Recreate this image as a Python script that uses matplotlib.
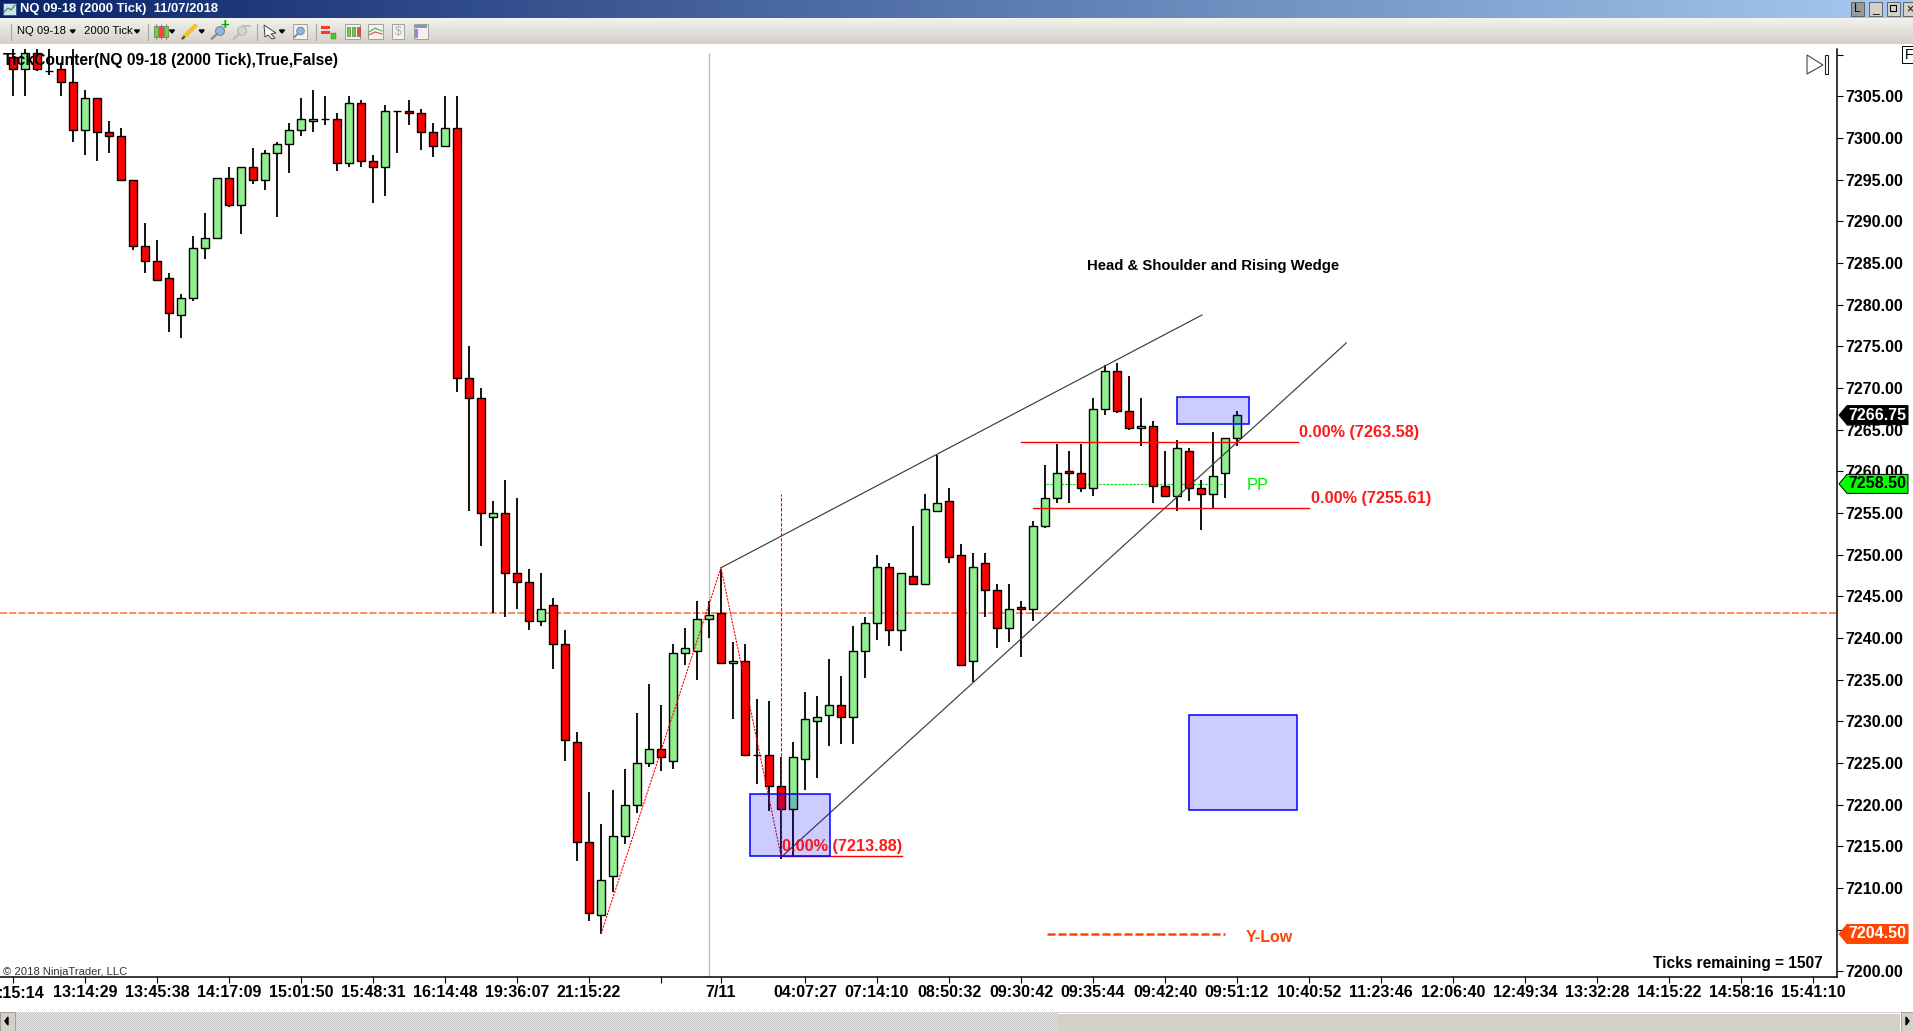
import numpy as np
import matplotlib
matplotlib.use('Agg')
import matplotlib.pyplot as plt
from matplotlib.patches import Rectangle, Polygon, Circle

plt.rcParams['font.family'] = ['Liberation Sans', 'DejaVu Sans']

# candles, one value per bar
opens = [7309.75,7308.25,7310.25,7308,7308.25,7306.75,7301,7304.75,7300.75,7300.25,
         7295,7287,7285.25,7283.25,7278.75,7280.75,7286.75,7288,7295.25,7292,
         7296.5,7295,7298.25,7299.25,7301,7302,7302.25,7302.25,7297,7304.25,
         7297.25,7296.5,7303.25,7303.25,7303,7300.75,7299,7301.25,7271.25,7268.75,
         7254.5,7255,7247.75,7246.75,7242,7244,7239.25,7227.5,7215.5,7206.75,
         7211.5,7216.25,7220,7225,7226.75,7225.25,7238.25,7238.5,7242.25,7243,
         7237,7237.25,7226,7226,7222.25,7219.5,7225.5,7230,7230.75,7232,
         7230.5,7238.5,7241.75,7248.5,7241,7247.5,7246.5,7255.25,7256.5,7250,
         7237.25,7249,7245.75,7241.25,7243.75,7243.5,7253.5,7256.75,7260,7259.75,
         7258,7267.5,7272,7267.25,7265.25,7265.5,7258.25,7257,7262.5,7258,
         7257.25,7259.75,7264]
highs = [7310.75,7310.75,7310.75,7310.75,7309,7310.75,7305.75,7304.75,7302,7301.25,
         7295,7289.75,7287.75,7283.75,7281.25,7288.25,7291,7295.25,7296.5,7296.5,
         7298.75,7298.5,7299.5,7301.75,7304.75,7305.75,7305,7303,7305,7304.5,
         7298,7304,7303.25,7304.5,7303.5,7301.75,7305,7305,7275,7270,
         7256.5,7259,7256.75,7248.25,7247.75,7244.75,7241,7228.75,7221.5,7217.75,
         7221.75,7224.25,7231,7234.5,7232,7239.25,7241.25,7244.5,7244.5,7248.25,
         7239.5,7239.25,7232.75,7232.5,7225.75,7227.5,7233.5,7233,7237.5,7235.5,
         7241.5,7242.5,7250,7249,7247.75,7253.5,7257.25,7262,7258,7251.25,
         7250.25,7250.25,7246.5,7246.5,7244.5,7254,7260.75,7263.25,7262.5,7263.25,
         7268.75,7272.75,7273,7271.5,7268.75,7266,7262.5,7263.75,7262.75,7259,
         7264.75,7264,7267.25]
lows = [7305,7305,7308,7307.5,7305,7299.5,7298,7297.25,7298.25,7295,
        7286.5,7283.75,7283,7276.75,7276,7280.5,7285.5,7288,7291.75,7288.5,
        7294.5,7293.75,7290.5,7295.75,7300.25,7300.75,7301.5,7296,7296.5,7296.5,
        7292.25,7293,7298.25,7301.5,7298.5,7297.75,7299,7269.5,7255.25,7251,
        7243,7242.5,7243.5,7241,7241.5,7236.25,7225.25,7213.25,7206,7204.5,
        7209.5,7215.25,7219,7224.5,7224,7224.25,7236.75,7235,7240,7237,
        7230.25,7226,7222.5,7219.25,7213.5,7213.75,7221.75,7223.25,7227,7227.25,
        7227.25,7235.25,7239.75,7239,7238.5,7246.5,7246.5,7255.25,7249,7236.75,
        7234.75,7242.5,7238.75,7239.5,7237.75,7242,7253.25,7256.25,7256.25,7257.5,
        7257,7266.75,7267,7265,7263,7256.25,7257,7255.25,7256.5,7253,
        7255.5,7256.75,7263]
closes = [7308.25,7310.25,7308.25,7308,7306.75,7301,7304.75,7300.75,7300.25,7295,
          7287,7285.25,7283,7279,7280.75,7286.75,7288,7295.25,7292,7296.5,
          7295,7298.25,7299.25,7301,7302.25,7302.25,7302.25,7297,7304.25,7297.25,
          7296.5,7303.25,7303.25,7303,7300.75,7299,7301.25,7271.25,7268.75,7255,
          7255,7247.75,7246.75,7242,7243.5,7239.25,7227.75,7215.5,7207,7211,
          7216.25,7220,7225,7226.75,7225.75,7238.25,7238.75,7242.25,7242.75,7237,
          7237.25,7226,7226,7222.25,7219.5,7225.75,7230.25,7230.5,7232,7230.5,
          7238.5,7241.75,7248.5,7241,7247.75,7246.5,7255.5,7256.25,7249.75,7236.75,
          7248.5,7245.75,7241.25,7243.5,7243.5,7253.5,7256.75,7259.75,7259.75,7258,
          7267.5,7272,7267.25,7265.25,7265.5,7258.25,7257,7262.75,7258,7257.25,
          7259.5,7264,7266.75]

# axis labels
y_ticks = [7200,7205,7210,7215,7220,7225,7230,7235,7240,7245,7250,7255,
           7260,7265,7270,7275,7280,7285,7290,7295,7300,7305,7310]
x_ticks = [0,6,12,18,24,30,36,42,48,54,59,66,72,78,84,90,96,102,108,114,120,126,132,138,144,150]
x_labels = ['','13:14:29','13:45:38','14:17:09','15:01:50','15:48:31','16:14:48','19:36:07',
            '21:15:22','','7/11','04:07:27','07:14:10','08:50:32','09:30:42','09:35:44',
            '09:42:40','09:51:12','10:40:52','11:23:46','12:06:40','12:49:34','13:32:28',
            '14:15:22','14:58:16','15:41:10']

# drawings on the chart (bar number, price)
session_break = 58
y_low = 7243
wedge_top_x = [59, 99.08]
wedge_top_y = [7248.44, 7278.76]
wedge_low_x = [64.06, 111.1]
wedge_low_y = [7213.76, 7275.4]
zigzag_x = [49, 59, 64]
zigzag_y = [7204.5, 7248.44, 7213.88]
fib_x = 64
fib_y = [7213.88, 7257.25]
res_levels = [7263.58, 7255.61, 7213.88]
res_start = [84, 85.03, 64]
res_end = [107.06, 108, 74.06]
pp_level = 7258.5
pp_x = [86.1, 100.9]
boxes_x = [61.4, 97.03, 98.03]
boxes_x2 = [68.06, 103.03, 107]
boxes_lo = [7213.8, 7265.64, 7219.34]
boxes_hi = [7221.24, 7268.88, 7230.73]
ylow_x = [86.17, 101]
ylow_val = 7204.5
flags = [7266.75, 7258.50, 7204.50]
flag_fill = ['black', '#00ff00', '#ff4500']
flag_text = ['white', 'black', 'white']


def fs(px):
    return px * 0.72


def price_px(p):
    return 96.3 + (7305 - p) * 8.335


fig = plt.figure(figsize=(19.13, 10.31), dpi=100, facecolor='white')

ax = fig.add_axes([0, (1031 - 977) / 1031, 1837 / 1913, (977 - 49) / 1031], zorder=1)
ax.set_xlim(-13 / 12, (1837 - 13) / 12)
ax.set_ylim(7305 - (977 - 96.3) / 8.335, 7305 + (96.3 - 49) / 8.335)
ax.patch.set_alpha(0)

idx = np.arange(len(opens))
o = np.array(opens)
c = np.array(closes)
ax.vlines(idx, lows, highs, color='black', lw=1.3, capstyle='butt', zorder=3)
cols = ['#ff0000' if a > b else '#90ee90' for a, b in zip(o, c)]
ax.bar(idx + 0.04, np.abs(c - o), bottom=np.minimum(o, c), width=0.667, color=cols,
       edgecolor='black', lw=1.0, zorder=4)

ax.axhline(y_low, color='#ff8a60', lw=1.4, dashes=(3.7, 1.05), zorder=1)
ax.axvline(session_break, ymax=0.995, color='#bdbdbd', lw=1.0, zorder=1)
ax.plot(pp_x, [pp_level, pp_level], color='#00e000', lw=0.8, dashes=(2.2, 1.2), zorder=2)

ax.plot(wedge_top_x, wedge_top_y, color='#3c3c3c', lw=0.85, zorder=5)
ax.plot(wedge_low_x, wedge_low_y, color='#3c3c3c', lw=0.85, zorder=5)
ax.plot(zigzag_x, zigzag_y, color='#ff0000', lw=0.8, dashes=(2, 1), zorder=5)
ax.plot([fib_x, fib_x], fib_y, color='#ff0000', lw=0.8, dashes=(3, 1.5), zorder=5)
for lev, a, b in zip(res_levels, res_start, res_end):
    ax.plot([a, b], [lev, lev], color='#ff0000', lw=1.0, zorder=5)
for a, b, lo, hi in zip(boxes_x, boxes_x2, boxes_lo, boxes_hi):
    ax.add_patch(Rectangle((a, lo), b - a, hi - lo, facecolor=(0, 0, 1, 0.2),
                           edgecolor='#0000ff', lw=1.1, zorder=6))
ax.plot(ylow_x, [ylow_val, ylow_val], color='#ff4500', lw=1.8, dashes=(3.2, 1.2), zorder=5)

for s in ['top', 'left']:
    ax.spines[s].set_visible(False)
ax.spines['right'].set_linewidth(1.1)
ax.spines['bottom'].set_linewidth(1.1)
ax.yaxis.tick_right()
ax.set_yticks(y_ticks)
ax.set_yticklabels([f'{v:.2f}' if v != 7310 else '' for v in y_ticks],
                   fontsize=fs(16), fontweight='bold')
ax.set_xticks(x_ticks)
ax.set_xticklabels(x_labels, fontsize=fs(16), fontweight='bold')
ax.tick_params(axis='y', length=4.3, width=0.8, pad=1.5)
ax.tick_params(axis='x', length=4.3, width=0.8, pad=1.8)

# window chrome and texts, in pixels
ui = fig.add_axes([0, 0, 1, 1], zorder=2)
ui.axis('off')

title_grad = np.linspace(np.array([10, 36, 106]), np.array([166, 202, 240]), 256)[None, :, :] / 255
ui.imshow(title_grad, extent=(0, 1913, 18, 0), aspect='auto', zorder=1)
bar_grad = np.linspace(np.array([243, 242, 238]), np.array([212, 208, 200]), 26)[:, None, :] / 255
ui.imshow(bar_grad, extent=(0, 1913, 44, 18), aspect='auto', zorder=1)
checker = (np.indices((19, 1058)).sum(axis=0) % 2)[:, :, None] * np.array([0.14, 0.14, 0.14]) + 0.77
ui.imshow(checker, extent=(0, 1058, 1031, 1012), aspect='auto', interpolation='nearest', zorder=1)
ui.set_xlim(0, 1913)
ui.set_ylim(1031, 0)
ui.add_patch(Rectangle((1058, 1012), 842, 19, facecolor='#d4d0c8', edgecolor='none', zorder=2))
ui.plot([1058, 1900], [1013, 1013], color='white', lw=0.8, zorder=3)
ui.add_patch(Rectangle((0, 1012), 15, 19, facecolor='#d4d0c8', edgecolor='#888888', lw=0.5, zorder=3))
ui.add_patch(Polygon([(5, 1021), (8, 1017), (8, 1025)], color='black', zorder=4))
ui.add_patch(Rectangle((1901, 1012), 12, 19, facecolor='#d4d0c8', edgecolor='#888888', lw=0.5, zorder=3))
ui.add_patch(Polygon([(1909, 1021), (1906, 1017), (1906, 1025)], color='black', zorder=4))

ui.text(20, 9, 'NQ 09-18 (2000 Tick)  11/07/2018', color='white', fontsize=fs(13),
        fontweight='bold', va='center', zorder=5)
ui.add_patch(Rectangle((3, 3), 13, 12, facecolor='#cfe0f5', edgecolor='#335577', lw=0.6, zorder=5))
ui.plot([4, 8, 11, 15], [12, 8, 10, 5], color='#2e9e3e', lw=0.9, zorder=6)

# toolbar
ui.text(17, 31, 'NQ 09-18', fontsize=fs(11.2), va='center', zorder=5)
ui.text(84, 31, '2000 Tick', fontsize=fs(11.2), va='center', zorder=5)
for tx in [72.7, 137, 172, 201.7, 282]:
    ui.add_patch(Polygon([(tx - 2.5, 30), (tx + 2.5, 30), (tx, 33)], color='black', zorder=5))
for sx in [10.7, 147.7, 257, 315.7]:
    ui.plot([sx, sx], [24, 40], color='#a8a59c', lw=0.8, zorder=5)
for gx, gc in zip([154, 159, 164], ['#66dd22', '#ff4444', '#66dd22']):
    ui.add_patch(Rectangle((gx, 26), 3.5, 11, facecolor=gc, edgecolor='#555555', lw=0.4, zorder=5))
    ui.plot([gx + 1.7, gx + 1.7], [24, 39], color='#555555', lw=0.4, zorder=4)
ui.plot([184, 195], [37, 26], color='#f0c030', lw=3, zorder=5)
ui.plot([182.5, 184], [38.5, 37], color='#444444', lw=1.4, zorder=5)
for mx, mc, me in zip([220, 242], ['#8fb4e8', '#d4d4d0'], ['#888888', '#b8b8b4']):
    ui.add_patch(Circle((mx, 31), 4.5, facecolor=mc, edgecolor=me, lw=0.8, zorder=5))
    ui.plot([mx - 8, mx - 3], [38.5, 34], color=me, lw=1.6, zorder=5)
ui.text(224.5, 25.5, '+', color='#00aa00', fontsize=fs(15), fontweight='bold', ha='center', va='center', zorder=6)
ui.plot([243, 250], [26, 26], color='#c0c0bc', lw=1.5, zorder=6)
ui.add_patch(Polygon([(264, 25), (276, 33), (271, 34), (275, 38), (272, 39), (268, 35), (265, 37)],
                     facecolor='white', edgecolor='#444444', lw=0.7, zorder=5))
for bx, bw in zip([293, 345, 368, 392, 414], [14, 15, 15, 12, 14]):
    ui.add_patch(Rectangle((bx, 24), bw, 15, facecolor='#f2f1ec', edgecolor='#a0a0a0', lw=0.7, zorder=4))
ui.add_patch(Circle((300.5, 31), 3.8, facecolor='#8fb4e8', edgecolor='#888888', lw=0.7, zorder=5))
ui.plot([294.5, 297.5], [37, 34], color='#888888', lw=1.4, zorder=5)
ui.add_patch(Rectangle((321, 26), 9, 3, facecolor='#ff3333', edgecolor='none', zorder=5))
ui.add_patch(Rectangle((321, 31), 9, 3, facecolor='#ff3333', edgecolor='none', zorder=5))
ui.add_patch(Rectangle((331, 33), 5, 6, facecolor='#44cc22', edgecolor='#555555', lw=0.3, zorder=5))
for gx, gc in zip([347, 352, 357], ['#66dd22', '#66dd22', '#ff4444']):
    ui.add_patch(Rectangle((gx, 27), 3, 9, facecolor=gc, edgecolor='#555555', lw=0.4, zorder=5))
ui.plot([369, 375, 382], [32, 28, 31], color='#44aa44', lw=0.7, zorder=5)
ui.plot([369, 375, 382], [35, 32, 34], color='#cc4444', lw=0.7, zorder=5)
ui.text(398, 32, '$', color='#b0b0b0', fontsize=fs(12), ha='center', va='center', zorder=5)
ui.add_patch(Rectangle((415, 25), 12, 3, facecolor='#7799cc', edgecolor='none', zorder=5))
ui.add_patch(Rectangle((415, 29), 2.5, 9, facecolor='#aa77ee', edgecolor='none', zorder=5))

for bx, bt in zip([1851, 1869, 1887, 1903], ['L', '_', '', '×']):
    fc = '#9a9a9a' if bt == 'L' else '#d4d0c8'
    ui.add_patch(Rectangle((bx, 2), 13, 14, facecolor=fc, edgecolor='#555555', lw=0.6, zorder=5))
    ui.text(bx + 6.5, 9, bt, fontsize=fs(12), ha='center', va='center', color='#000055' if bt == 'L' else 'black', zorder=6)
ui.add_patch(Rectangle((1890, 5), 6, 6, facecolor='none', edgecolor='black', lw=0.8, zorder=6))
ui.add_patch(Rectangle((1902, 46), 12, 17, facecolor='white', edgecolor='black', lw=0.7, zorder=5))
ui.text(1905, 55, 'F', fontsize=fs(14), va='center', zorder=6)
ui.add_patch(Polygon([(1807, 55), (1823, 65), (1807, 74)], facecolor='white', edgecolor='#444444', lw=0.8, zorder=5))
ui.add_patch(Rectangle((1825, 55), 3, 19, facecolor='white', edgecolor='#222222', lw=0.8, zorder=5))

# texts on the chart
ui.text(3, 60, 'TickCounter(NQ 09-18 (2000 Tick),True,False)', fontsize=fs(15.65), fontweight='bold',
        va='center', zorder=5)
ui.text(3, 972, '\u00a9 2018 NinjaTrader, LLC', fontsize=fs(11.2), color='#333333', va='center', zorder=5)
ui.text(44, 993, ':15:14', fontsize=fs(16), fontweight='bold', ha='right', va='center', zorder=5)
ui.text(1086.7, 266, 'Head & Shoulder and Rising Wedge', fontsize=fs(14.85), fontweight='bold', va='center', zorder=5)
for lev, tx, ty in zip(res_levels, [1299.3, 1311, 782], [433, 498.5, 846.5]):
    ui.text(tx, ty, f'0.00% ({lev:.2f})', color='#ff0000', fontsize=fs(16.3), fontweight='bold',
            va='center', alpha=0.9, zorder=5)
ui.text(1247, 486, 'PP', color='#00ee00', fontsize=fs(16.5), va='center', zorder=5)
ui.text(1246, 937, 'Y-Low', color='#ff4500', fontsize=fs(16), fontweight='bold', va='center', zorder=5)
ui.text(1823, 963.7, 'Ticks remaining = 1507', fontsize=fs(15.5), fontweight='bold', ha='right', va='center', zorder=5)

for val, fc, tc in zip(flags, flag_fill, flag_text):
    yp = price_px(val)
    ui.add_patch(Polygon([(1839, yp), (1847, yp - 9.5), (1908, yp - 9.5), (1908, yp + 9.5), (1847, yp + 9.5)],
                         facecolor=fc, edgecolor='black' if fc == '#00ff00' else fc, lw=0.7, zorder=7))
    ui.text(1877, yp, f'{val:.2f}', color=tc, fontsize=fs(16), fontweight='bold', ha='center', va='center', zorder=8)

fig.savefig('out.png', dpi=100)
